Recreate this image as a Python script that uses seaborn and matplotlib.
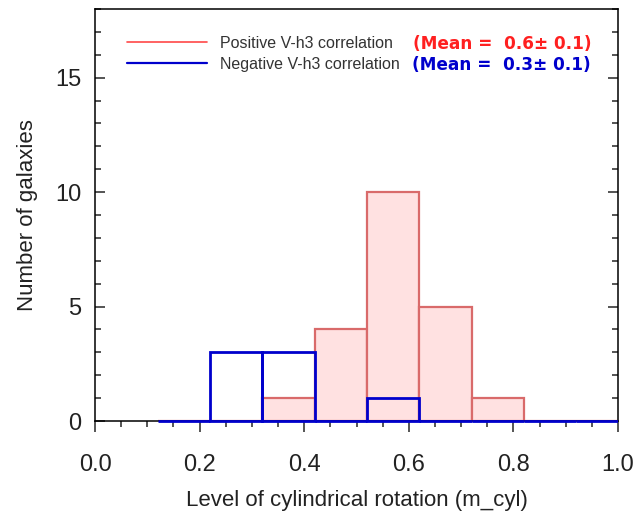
import numpy as np
import pandas as pd
import matplotlib
matplotlib.use("Agg")
import matplotlib.pyplot as plt
from matplotlib.lines import Line2D
from matplotlib.patches import Rectangle
from matplotlib.ticker import MultipleLocator, FormatStrFormatter
import seaborn as sns

# Histogram bins (width 0.1) and counts per bin
bin_edges = [0.12, 0.22, 0.32, 0.42, 0.52, 0.62, 0.72, 0.82, 0.92, 1.02]
positive_counts = [0, 0, 1, 4, 10, 5, 1, 0, 0]
negative_counts = [0, 3, 3, 0, 1, 0, 0, 0, 0]

positive_label = "Positive V-h3 correlation"
negative_label = "Negative V-h3 correlation"
positive_mean = "(Mean =  0.6\u00b1 0.1)"
negative_mean = "(Mean =  0.3\u00b1 0.1)"

centers = [(a + b) / 2 for a, b in zip(bin_edges[:-1], bin_edges[1:])]
df = pd.DataFrame({"m_cyl": centers, "pos": positive_counts, "neg": negative_counts})

sns.set_style("white")
plt.rcParams["font.family"] = ["Liberation Sans", "DejaVu Sans"]

RED_EDGE = "#d96a6a"
RED_FILL = "#ffe1e1"
BLUE = "#0000cc"
TEXT = "#222222"

fig = plt.figure(figsize=(6.39, 5.20), dpi=100)
ax = fig.add_axes([95 / 639, 1 - 421 / 520, (618 - 95) / 639, (421 - 9) / 520])

sns.histplot(data=df, x="m_cyl", weights="pos", bins=bin_edges, ax=ax,
             element="bars", fill=True, color=RED_FILL, alpha=1.0,
             edgecolor=RED_EDGE, linewidth=1.6, zorder=2)
n_red = len(ax.patches)
sns.histplot(data=df, x="m_cyl", weights="neg", bins=bin_edges, ax=ax,
             element="bars", fill=False, color=BLUE, edgecolor=BLUE,
             linewidth=2.0, zorder=5)

# let the blue outlines show fully along the baseline, but stop at x = 1.0
clip = Rectangle((0, -0.02), 1.0, 1.04, transform=ax.transAxes,
                 facecolor="none", edgecolor="none")
for p in ax.patches[n_red:]:
    p.set_clip_path(clip)

ax.set_xlim(0.0, 1.0)
ax.set_ylim(0, 18)
ax.xaxis.set_major_locator(MultipleLocator(0.2))
ax.xaxis.set_minor_locator(MultipleLocator(0.05))
ax.yaxis.set_major_locator(MultipleLocator(5))
ax.yaxis.set_minor_locator(MultipleLocator(1))
ax.xaxis.set_major_formatter(FormatStrFormatter("%.1f"))

for s in ax.spines.values():
    s.set_linewidth(1.1)
    s.set_color("black")
    s.set_zorder(4)

ax.tick_params(axis="x", which="major", direction="out", length=8, width=1.1,
               labelsize=17, pad=16, labelcolor=TEXT, bottom=True, top=False)
ax.tick_params(axis="x", which="minor", direction="out", length=4, width=1.1,
               bottom=True, top=False)
ax.tick_params(axis="y", which="major", direction="in", length=7.5, width=1.1,
               labelsize=17, pad=10, labelcolor=TEXT, left=True, right=True)
ax.tick_params(axis="y", which="minor", direction="in", length=4, width=1.1,
               left=True, right=True)

ax.set_xlabel("Level of cylindrical rotation (m_cyl)", fontsize=16, color=TEXT, labelpad=10)
ax.set_ylabel("Number of galaxies", fontsize=16, color=TEXT, labelpad=12)

handles = [Line2D([], [], color="#ff4848", lw=1.2),
           Line2D([], [], color=BLUE, lw=1.6)]
leg = ax.legend(handles, [positive_label, negative_label], loc="upper left",
                bbox_to_anchor=(0.049, 0.950), frameon=False, fontsize=11.5,
                handlelength=5.0, handletextpad=0.85, labelspacing=0.35,
                borderaxespad=0)
for t in leg.get_texts():
    t.set_color("#333333")

ax.text(0.608, 0.916, positive_mean, transform=ax.transAxes, color="#ff2020",
        fontsize=12.2, fontweight="bold", family="DejaVu Sans", va="center")
ax.text(0.606, 0.865, negative_mean, transform=ax.transAxes, color=BLUE,
        fontsize=12.2, fontweight="bold", family="DejaVu Sans", va="center")

fig.savefig("out.png", dpi=100)
